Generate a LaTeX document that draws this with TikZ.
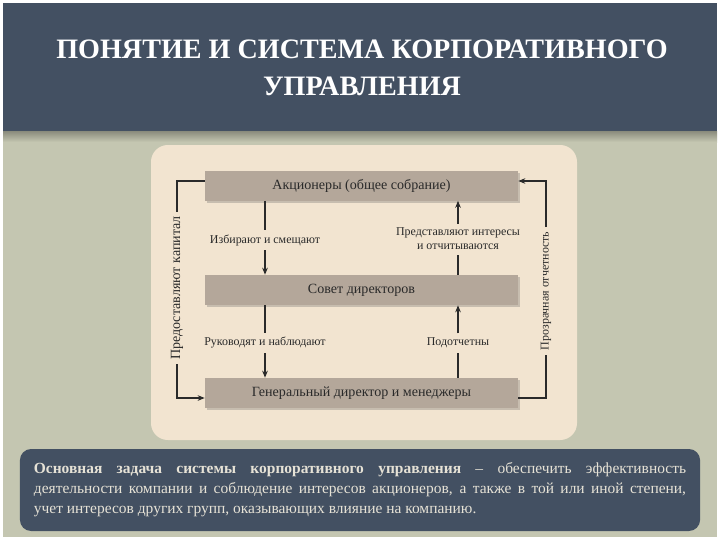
\documentclass[tikz,border=0pt]{standalone}
\usepackage{fontspec}
\setmainfont{Liberation Serif}
\usetikzlibrary{arrows.meta,positioning,shadows}
\definecolor{slate}{HTML}{435062}
\definecolor{sage}{HTML}{C4C6B1}
\definecolor{panel}{HTML}{F2E4D0}
\definecolor{taupe}{HTML}{B4A79A}
\definecolor{inkdark}{HTML}{2A2A2A}
\definecolor{paletext}{HTML}{E6E2D6}

\begin{document}
\begin{tikzpicture}[x=0.025cm, y=-0.025cm, >={Stealth[length=5pt,width=4pt]},
  levelbox/.style={fill=taupe, text=inkdark, minimum width=7.825cm, minimum height=0.75cm,
    font=\fontsize{10}{12}\selectfont,
    drop shadow={shadow xshift=1.5pt, shadow yshift=-1.5pt, opacity=0.3, fill=black!60}},
  flowlbl/.style={text=inkdark, inner sep=3pt, align=center, font=\fontsize{8.5}{10}\selectfont},
  link/.style={draw=inkdark, line width=0.8pt}]
  \useasboundingbox (0,0) rectangle (720,540);
  \fill[white] (0,0) rectangle (720,540);
  \fill[sage] (3,3) rectangle (717,537);
  \shade[top color=sage!70!black, bottom color=sage] (3,131) rectangle (717,142);
  \fill[slate] (3,3) rectangle (717,131);
  \node[text=white, align=center, font=\fontsize{20}{26}\selectfont\bfseries] (title) at (362,68)
    {ПОНЯТИЕ И СИСТЕМА КОРПОРАТИВНОГО\\УПРАВЛЕНИЯ};

  \fill[panel, rounded corners=12pt] (151,145) rectangle (577,440);

  \node[levelbox] (share) at (361.5,185.5) {Акционеры (общее собрание)};
  \node[levelbox] (board) at (361.5,290) {Совет директоров};
  \node[levelbox] (ceo) at (361.5,393) {Генеральный директор и менеджеры};

  \node[flowlbl] (elect) at (265,240) {Избирают и смещают};
  \node[flowlbl] (repr) at (458,239) {Представляют интересы\\и отчитываются};
  \node[flowlbl] (lead) at (265,343) {Руководят и наблюдают};
  \node[flowlbl] (subord) at (458,343) {Подотчетны};
  \node[flowlbl, rotate=90, font=\fontsize{10}{12}\selectfont] (capital) at (177,288) {Предоставляют капитал};
  \node[flowlbl, rotate=90] (report) at (546,291) {Прозрачная отчетность};

  \draw[link] (share.south -| elect) -- (elect);
  \draw[link,->] (elect) -- (board.north -| elect);
  \draw[link] (board.north -| repr) -- (repr);
  \draw[link,->] (repr) -- (share.south -| repr);
  \draw[link] (board.south -| lead) -- (lead);
  \draw[link,->] (lead) -- (ceo.north -| lead);
  \draw[link] (ceo.north -| subord) -- (subord);
  \draw[link,->] (subord) -- (board.south -| subord);

  \coordinate (lt) at (177,181);
  \coordinate (lb) at (177,398);
  \coordinate (rt) at (546,181);
  \coordinate (rb) at (546,398);
  \draw[link] (lt -| share.west) -- (lt) -- (capital);
  \draw[link,->] (capital) -- (lb) -- (lb -| ceo.west);
  \draw[link] (rb -| ceo.east) -- (rb) -- (report);
  \draw[link,->] (report) -- (rt) -- (rt -| share.east);

  \node[fill=slate, rounded corners=8pt, text=paletext, text width=16.3cm, align=justify,
    inner xsep=0.35cm, minimum height=2.05cm, font=\fontsize{11}{14.2}\selectfont] (task) at (360,490)
    {\textbf{Основная задача системы корпоративного управления} – обеспечить эффективность\linebreak
     деятельности компании и соблюдение интересов акционеров, а также в той или иной степени,\linebreak
     учет интересов других групп, оказывающих влияние на компанию.};
\end{tikzpicture}
\end{document}
